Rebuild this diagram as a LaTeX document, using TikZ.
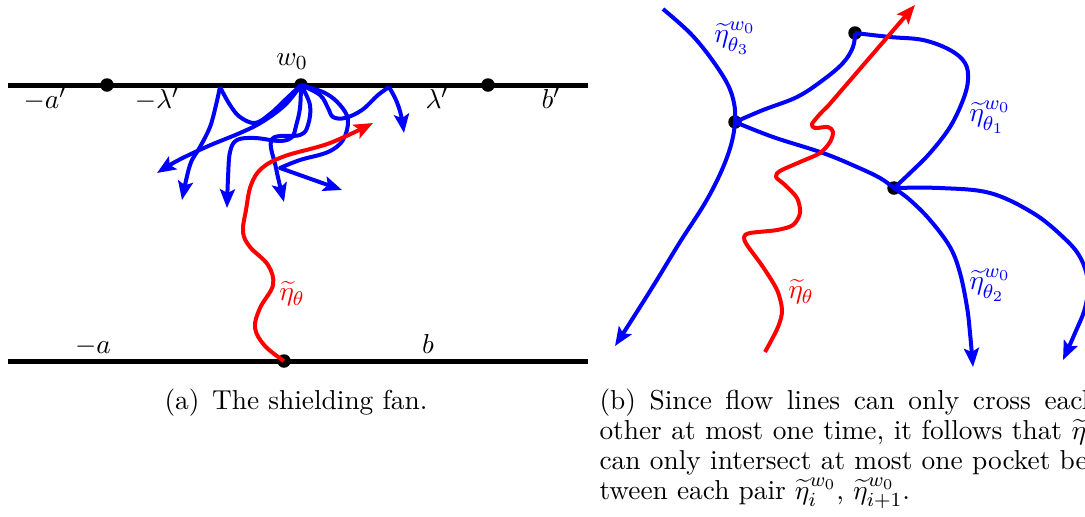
\documentclass[tikz,border=0pt]{standalone}
\usetikzlibrary{arrows.meta}
\begin{document}
\begin{tikzpicture}[x=0.4pt,y=-0.4pt,
  every node/.style={font=\fontsize{10.95}{13.6}\selectfont},
  dot/.style={circle,fill=black,inner sep=0pt,minimum size=5.4pt},
  axis/.style={line width=2pt},
  flow/.style={blue,line width=1.6pt,line join=round},
  flowarr/.style={flow,-{Stealth[length=7.5pt,width=6pt,inset=1.5pt]}},
  redline/.style={red,line width=1.6pt,line join=round},
  redarr/.style={redline,-{Stealth[length=7.5pt,width=6pt,inset=1.5pt]}},
  lbl/.style={inner sep=0pt},
  bluelbl/.style={inner sep=0pt,text=blue},
  redlbl/.style={inner sep=0pt,text=red},
  capline/.style={inner sep=0pt,anchor=base west}]
\useasboundingbox (0,0) rectangle (1085,516);
\clip (0,0) rectangle (1085,516);

% ---------------- left panel ----------------
\coordinate (tl) at (8,85);
\coordinate (tr) at (588,85);
\coordinate (bl) at (8,361);
\coordinate (br) at (588,361);
\draw[axis] (tl) -- (tr);
\draw[axis] (bl) -- (br);

\coordinate (L) at (220,87);
\coordinate (R) at (389,87);
\node[dot] (w0) at (301,85) {};
\node[dot] (pa) at (107,85) {};
\node[dot] (pb) at (488,85) {};
\node[dot] (e0) at (284,361) {};

\node[lbl,anchor=base] (lw0) at (292,65) {$w_0$};
\node[lbl,anchor=base] (lam1) at (45,108) {$-a'$};
\node[lbl,anchor=base] (lam2) at (157,108) {$-\lambda'$};
\node[lbl,anchor=base] (lam3) at (437,108) {$\lambda'$};
\node[lbl,anchor=base] (lam4) at (551,108) {$b'$};
\node[lbl,anchor=base] (la) at (93,353) {$-a$};
\node[lbl,anchor=base] (lb) at (428,353) {$b$};

% blue fan
\draw[flowarr] plot[smooth,tension=0.6] coordinates {(L) (216,105) (210,127) (200,147) (190,165) (182,200)};
\draw[flow] plot[smooth,tension=0.6] coordinates {(L) (230,105) (240,117) (255,123) (270,114) (285,100) (w0.center)};
\draw[flowarr] plot[smooth,tension=0.6] coordinates {(w0.center) (285,105) (262,122) (240,133) (213,144) (193,153) (175,162) (157,173)};
\draw[flowarr] plot[smooth,tension=0.6] coordinates {(w0.center) (300,108) (296,126) (292,137) (280,141) (255,138) (237,140) (230,152) (228,178) (227,208)};
\draw[flowarr] plot[smooth,tension=0.6] coordinates {(w0.center) (310,105) (308,125) (300,135) (272,139) (276,168) (284,202)};
\draw[flow] plot[smooth,tension=0.6] coordinates {(w0.center) (320,95) (328,108) (333,117) (345,118) (362,110) (378,95) (R)};
\draw[flowarr] plot[smooth,tension=0.6] coordinates {(R) (396,100) (401,115) (404,133)};
\draw[flowarr] plot[smooth,tension=0.6] coordinates {(w0.center) (325,93) (340,105) (348,120) (343,140) (328,152) (300,160) (280,168)} -- (342,190);

% red curve
\draw[redarr] plot[smooth,tension=0.6] coordinates {(e0.center) (265,346) (255,328) (260,308) (273,285) (268,265) (250,247) (243,232) (246,210) (251,185) (262,168) (285,156) (330,143) (373,123)};
\node[redlbl] (eta1) at (292,294) {$\widetilde{\eta}_\theta$};

\node[lbl,anchor=base] (capa) at (296,409) {(a)\hspace{5pt}The shielding fan.};

% ---------------- right panel ----------------
\node[dot] (A) at (735,122) {};
\node[dot] (B) at (855,33) {};
\node[dot] (C) at (894,188) {};
\coordinate (s3) at (663,9);
\coordinate (rs) at (765,352);

\draw[flowarr] plot[smooth,tension=0.6] coordinates {(s3) (690,33) (710,57) (727,83) (734,103) (A.center) (731,145) (721,172) (705,203) (680,242) (655,283) (633,318) (615,346)};
\draw[flow] plot[smooth,tension=0.6] coordinates {(A.center) (763,110) (797,97) (823,80) (843,63) (853,47) (B.center)};
\draw[flow] plot[smooth,tension=0.6] coordinates {(B.center) (890,37) (923,40) (950,50) (965,63) (968,80) (963,100) (950,127) (930,153) (910,173) (C.center)};
\draw[flowarr] plot[smooth,tension=0.6] coordinates {(A.center) (773,137) (823,153) (857,167) (880,178) (C.center) (910,200) (930,220) (950,247) (960,273) (967,307) (970,333) (973,367)};
\draw[flowarr] plot[smooth,tension=0.6] coordinates {(C.center) (940,188) (990,193) (1033,213) (1063,237) (1080,257) (1088,282) (1085,308) (1075,333) (1063,360)};

\draw[redarr] plot[smooth,tension=0.5] coordinates {(rs) (778,327) (782,310) (777,290) (763,267) (747,245) (744,237) (750,233) (777,230) (793,225) (800,213) (797,198) (785,185) (776,177) (780,171) (800,162) (820,153) (830,142) (833,132) (828,127) (815,128) (812,124) (820,114) (828,106)} -- (915,5);

\node[bluelbl] (l3) at (735,38) {$\widetilde{\eta}^{w_0}_{\theta_3}$};
\node[bluelbl] (l1) at (990,117) {$\widetilde{\eta}^{w_0}_{\theta_1}$};
\node[bluelbl] (l2) at (990,285) {$\widetilde{\eta}^{w_0}_{\theta_2}$};
\node[redlbl] (eta2) at (801,292) {$\widetilde{\eta}_\theta$};

\node[capline] (cb1) at (599,409) {\makebox[199pt][s]{(b) Since flow lines can only cross each}};
\node[capline] (cb2) at (599,439) {\makebox[199pt][s]{other at most one time, it follows that $\widetilde{\eta}_\theta$}};
\node[capline] (cb3) at (599,469) {\makebox[199pt][s]{can only intersect at most one pocket be-}};
\node[capline] (cb4) at (599,499) {tween each pair $\widetilde{\eta}^{w_0}_i$, $\widetilde{\eta}^{w_0}_{i+1}$.};
\end{tikzpicture}
\end{document}
